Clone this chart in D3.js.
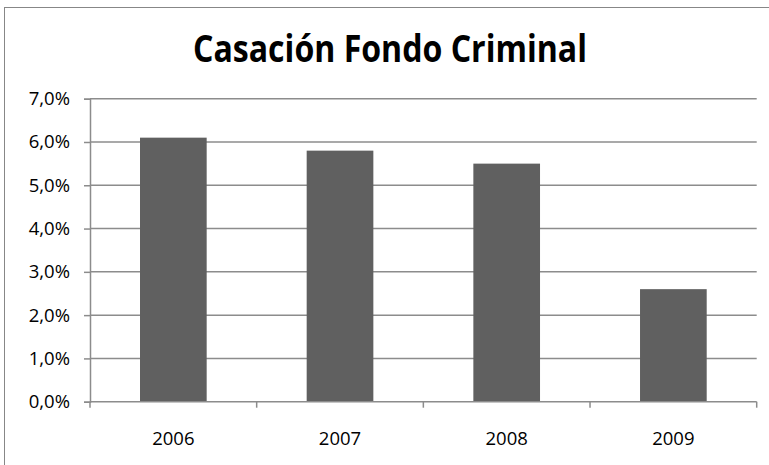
<!DOCTYPE html>
<html>
<head>
<meta charset="utf-8">
<script src="https://cdn.jsdelivr.net/npm/d3@7.9.0/dist/d3.min.js"></script>
<style>
  html, body { margin: 0; padding: 0; background: #fff; overflow: hidden; }
  svg { display: block; font-family: "Open Sans", sans-serif; }
</style>
</head>
<body>
<svg id="chart" width="769" height="465"></svg>
<script>
// data
const chartTitle = 'Casación Fondo Criminal';
const years = ['2006', '2007', '2008', '2009'];
const rates = [0.061, 0.058, 0.055, 0.026];
const yTicks = [0, 0.01, 0.02, 0.03, 0.04, 0.05, 0.06, 0.07];

const svg = d3.select('#chart');
const margin = { left: 90, right: 12.3, top: 98.7, bottom: 63.3 };
const W = 769, H = 465;

// outer chart border (cut off on right/bottom like the source)
svg.append('rect')
  .attr('x', 4.5).attr('y', 7.5)
  .attr('width', 800).attr('height', 500)
  .attr('fill', 'none')
  .attr('stroke', '#878787')
  .attr('stroke-width', 1);

const x = d3.scaleBand()
  .domain(years)
  .range([margin.left, W - margin.right])
  .paddingInner(0.6)
  .paddingOuter(0.3);

const y = d3.scaleLinear()
  .domain([0, 0.07])
  .range([H - margin.bottom, margin.top]);

const fmt = v => d3.format('.1%')(v).replace('.', ',');

// gridlines
svg.append('g')
  .selectAll('line')
  .data(yTicks.slice(1))
  .join('line')
  .attr('x1', margin.left).attr('x2', W - margin.right)
  .attr('y1', d => y(d)).attr('y2', d => y(d))
  .attr('stroke', '#8c8c8c')
  .attr('stroke-width', 1.5);

// bars
svg.append('g')
  .selectAll('rect')
  .data(rates)
  .join('rect')
  .attr('x', (d, i) => x(years[i]))
  .attr('width', x.bandwidth())
  .attr('y', d => y(d))
  .attr('height', d => y(0) - y(d))
  .attr('fill', '#606060');

// y axis
const yAxis = svg.append('g')
  .attr('transform', `translate(${margin.left},0)`)
  .call(d3.axisLeft(y).tickValues(yTicks).tickFormat(fmt).tickSize(6).tickPadding(14));
yAxis.select('.domain').attr('stroke', '#8c8c8c').attr('stroke-width', 1.5);
yAxis.selectAll('.tick line').attr('stroke', '#8c8c8c').attr('stroke-width', 1.5);
yAxis.selectAll('.tick text')
  .attr('font-family', '"Open Sans", sans-serif')
  .attr('font-size', 18.5)
  .attr('fill', '#000');

// x axis: ticks sit between categories
const step = x.step();
const bounds = d3.range(years.length + 1).map(i => margin.left + i * step);
svg.append('line')
  .attr('x1', margin.left).attr('x2', W - margin.right)
  .attr('y1', y(0)).attr('y2', y(0))
  .attr('stroke', '#8c8c8c').attr('stroke-width', 1.5);
svg.append('g')
  .selectAll('line')
  .data(bounds)
  .join('line')
  .attr('x1', d => d).attr('x2', d => d)
  .attr('y1', y(0)).attr('y2', y(0) + 6)
  .attr('stroke', '#8c8c8c').attr('stroke-width', 1.5);
svg.append('g')
  .selectAll('text')
  .data(years)
  .join('text')
  .attr('x', d => x(d) + x.bandwidth() / 2)
  .attr('y', 445)
  .attr('text-anchor', 'middle')
  .attr('font-size', 18.5)
  .attr('fill', '#000')
  .text(d => d);

// title
svg.append('text')
  .attr('x', 390)
  .attr('y', 62)
  .attr('text-anchor', 'middle')
  .attr('font-size', 37)
  .attr('font-weight', 'bold')
  .attr('fill', '#000')
  .attr('textLength', 394)
  .attr('lengthAdjust', 'spacingAndGlyphs')
  .text(chartTitle);
</script>
</body>
</html>
